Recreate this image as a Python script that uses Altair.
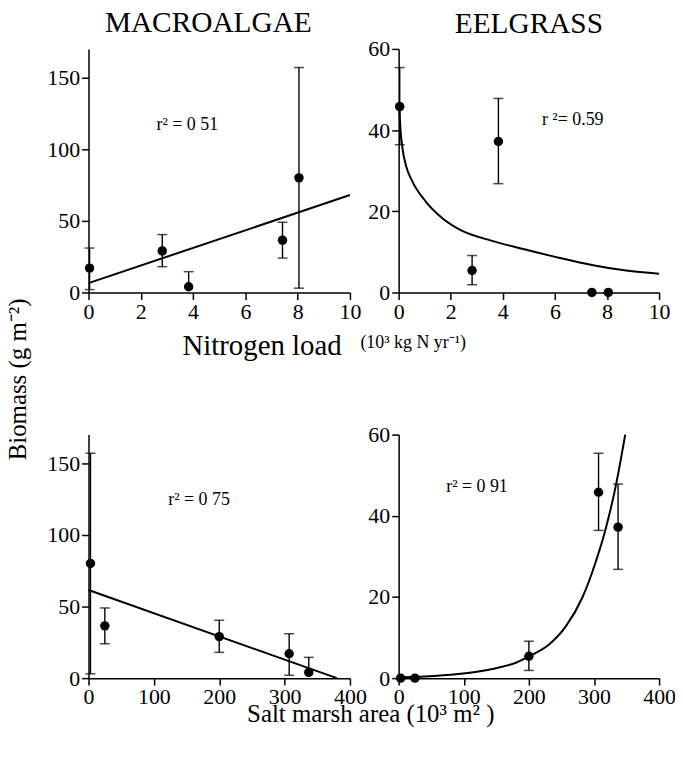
import altair as alt
import pandas as pd

FONT = "Liberation Serif"

# ---- data (5 estuaries) ----
n_load = [8.05, 7.42, 2.82, 0.04, 3.83]          # 10^3 kg N yr-1
salt_marsh = [3, 25, 200, 307, 337]              # 10^3 m2
macro_mean = [80, 36.5, 29, 17, 4]
macro_hi = [157, 49, 40.4, 31, 14.5]
macro_lo = [3, 24, 18, 2, None]
eel_mean = [0, 0, 5.4, 45.8, 37.2]
eel_hi = [None, None, 9.1, 55.4, 47.8]
eel_lo = [None, None, 1.9, 36.4, 26.8]

# fitted lines / curves
macro_n_fit_x = [0, 10]
macro_n_fit_y = [6.5, 68]
macro_sm_fit_x = [0, 380]
macro_sm_fit_y = [61.5, 0]
eel_n_curve_x = [0.03, 0.06, 0.15, 0.28, 0.53, 1.04, 1.68, 2.31, 3.59, 4.92, 6.19, 7.46, 8.73, 10]
eel_n_curve_y = [45, 41.1, 35.4, 31.3, 27.3, 22.4, 18.3, 15.6, 12.7, 10.5, 8.5, 6.7, 5.4, 4.6]
eel_sm_curve_x = [0, 40, 91, 142, 180, 203, 231, 257, 282, 302, 318, 333, 348]
eel_sm_curve_y = [0.2, 0.4, 1.0, 2.2, 3.8, 5.6, 8.3, 12.8, 19.8, 28.3, 36.8, 47.0, 60]

r2_labels = ["r\u00b2 = 0 51", "r \u00b2= 0.59", "r\u00b2 = 0 75", "r\u00b2 = 0 91"]
r2_pos_x = [2.6, 5.5, 122, 73]
r2_pos_y = [117, 42.6, 124.6, 47]

W_LEFT, W_RIGHT, H = 263, 262, 245


def panel(xs, means, his, los, fit_x, fit_y, smooth, xdom, xticks, ydom, yticks,
          r2_text, r2x, r2y, width, xaxis_extra=None, yaxis_extra=None, title=None):
    xaxis = dict(values=xticks, title=None)
    if xaxis_extra:
        xaxis.update(xaxis_extra)
    yaxis = dict(values=yticks, title=None)
    if yaxis_extra:
        yaxis.update(yaxis_extra)
    X = alt.X("x:Q", scale=alt.Scale(domain=xdom, nice=False), axis=alt.Axis(**xaxis))
    Y = alt.Y("y:Q", scale=alt.Scale(domain=ydom, nice=False), axis=alt.Axis(**yaxis))

    pts = pd.DataFrame({"x": xs, "y": means})
    bars = pd.DataFrame({"x": xs, "y": [l if l is not None else m for l, m in zip(los, means)],
                         "y2": [h for h in his]}).dropna()
    caps = pd.DataFrame({"x": xs * 2, "y": list(his) + list(los)}).dropna()
    fit = pd.DataFrame({"x": fit_x, "y": fit_y})
    txt = pd.DataFrame({"x": [r2x], "y": [r2y], "t": [r2_text]})

    line = alt.Chart(fit).mark_line(
        color="black", strokeWidth=2, interpolate="monotone" if smooth else "linear"
    ).encode(x=X, y=Y)
    rules = alt.Chart(bars).mark_rule(color="black", strokeWidth=1.4).encode(
        x=X, y=Y, y2="y2:Q")
    ticks = alt.Chart(caps).mark_tick(
        color="black", orient="horizontal", size=10, thickness=1.5).encode(x=X, y=Y)
    dots = alt.Chart(pts).mark_point(
        filled=True, color="black", size=90, opacity=1).encode(x=X, y=Y)
    text = alt.Chart(txt).mark_text(
        font=FONT, fontSize=18, align="left", baseline="middle", color="black"
    ).encode(x=X, y=Y, text="t:N")

    ch = alt.layer(line, rules, ticks, dots, text).properties(width=width, height=H)
    if title:
        ch = ch.properties(title=title)
    return ch


t_macro = alt.TitleParams("MACROALGAE", font=FONT, fontSize=29.5, fontWeight="normal",
                          color="black", baseline="alphabetic", offset=-12,
                          frame="group", anchor="middle", dx=-11)
t_eel = alt.TitleParams("EELGRASS", font=FONT, fontSize=29.5, fontWeight="normal",
                        color="black", baseline="alphabetic", offset=-24,
                        frame="group", anchor="middle")

tl = panel(n_load, macro_mean, macro_hi, macro_lo, macro_n_fit_x, macro_n_fit_y, False,
           [0, 10], [0, 2, 4, 6, 8, 10], [0, 170], [0, 50, 100, 150],
           r2_labels[0], r2_pos_x[0], r2_pos_y[0], W_LEFT,
           xaxis_extra=dict(title="Nitrogen load", titleFontSize=29, titleAlign="left",
                            titleX=94, titleY=62, titleBaseline="alphabetic"),
           yaxis_extra=dict(title="Biomass (g m\u207b\u00b2)", titleFontSize=25,
                            titleAlign="center", titleX=-63, titleY=332,
                            titleBaseline="alphabetic"),
           title=t_macro)
tr = panel(n_load, eel_mean, eel_hi, eel_lo, eel_n_curve_x, eel_n_curve_y, True,
           [0, 10], [0, 2, 4, 6, 8, 10], [0, 60], [0, 20, 40, 60],
           r2_labels[1], r2_pos_x[1], r2_pos_y[1], W_RIGHT,
           xaxis_extra=dict(title="(10\u00b3 kg N yr\u207b\u00b9)", titleFontSize=18,
                            titleAlign="left", titleX=-39, titleY=55,
                            titleBaseline="alphabetic"),
           title=t_eel)
bl = panel(salt_marsh, macro_mean, macro_hi, macro_lo, macro_sm_fit_x, macro_sm_fit_y, False,
           [0, 400], [0, 100, 200, 300, 400], [0, 170], [0, 50, 100, 150],
           r2_labels[2], r2_pos_x[2], r2_pos_y[2], W_LEFT,
           xaxis_extra=dict(title="Salt marsh area (10\u00b3 m\u00b2 )", titleFontSize=25,
                            titleAlign="left", titleX=159, titleY=44,
                            titleBaseline="alphabetic"))
br = panel(salt_marsh, eel_mean, eel_hi, eel_lo, eel_sm_curve_x, eel_sm_curve_y, True,
           [0, 400], [0, 100, 200, 300, 400], [0, 60], [0, 20, 40, 60],
           r2_labels[3], r2_pos_x[3], r2_pos_y[3], W_RIGHT)

chart = alt.concat(tl, tr, bl, br, columns=2, spacing={"row": 143, "column": 49},
                   bounds="flush").properties(
    padding={"left": -2, "top": -3, "right": -1, "bottom": 0},
).configure_view(stroke=None).configure_axis(
    domainColor="black", tickColor="black", labelColor="black", labelFont=FONT,
    labelFontSize=22, tickSize=7, labelPadding=2, domainWidth=1.5, tickWidth=1.5,
    grid=False, titleFont=FONT, titleFontWeight="normal", titleColor="black",
    labelFlush=False,
)

chart.save("out.html", embed_options={"renderer": "svg", "actions": False})
